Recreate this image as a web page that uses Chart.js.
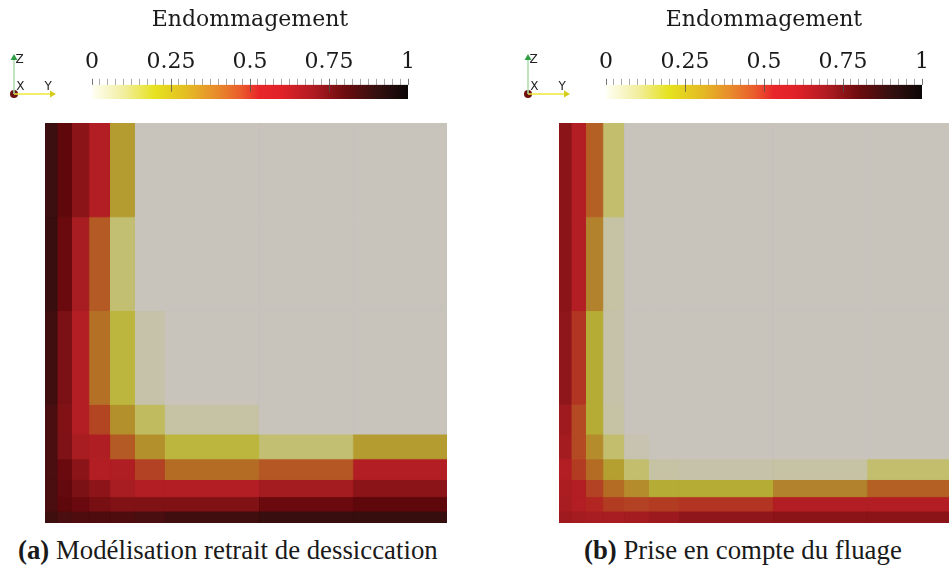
<!DOCTYPE html>
<html>
<head>
<meta charset="utf-8">
<script src="https://cdn.jsdelivr.net/npm/chart.js@4.4.1/dist/chart.umd.min.js"></script>
<style>
  html, body { margin: 0; padding: 0; background: #fff; overflow: hidden; }
  body { width: 949px; height: 566px; position: relative; }
  .box { position: absolute; }
  .caption { position: absolute; top: 535px; font-family: "Liberation Serif", serif; font-size: 26.8px; line-height: 30px; color: #1a1a1a; white-space: nowrap; }
</style>
</head>
<body>
<div class="caption" style="left:18px"><b>(a)</b> Modélisation retrait de dessiccation</div>
<div class="caption" style="left:584px"><b>(b)</b> Prise en compte du fluage</div>
<script>
document.addEventListener("DOMContentLoaded", () => {

    // --- 1. DATA ---
    // mesh node positions along each side (graded towards the corner)
    const xEdges = [0, 0.0299, 0.0658, 0.1088, 0.1605, 0.2225, 0.2969, 0.5312, 0.7656, 1];
    const yEdges = [0, 0.0299, 0.0658, 0.1088, 0.1605, 0.2225, 0.2969, 0.5312, 0.7656, 1];

    // damage per element, rows from top to bottom, columns from left to right
    const damageA = [
        [0.86, 0.79, 0.70, 0.56, 0.28, 0, 0, 0, 0],
        [0.865, 0.77, 0.64, 0.43, 0.115, 0, 0, 0, 0],
        [0.85, 0.745, 0.56, 0.39, 0.18, 0.04, 0, 0, 0],
        [0.83, 0.735, 0.56, 0.47, 0.31, 0.14, 0.05, 0, 0],
        [0.83, 0.74, 0.64, 0.62, 0.43, 0.31, 0.18, 0.115, 0.28],
        [0.83, 0.77, 0.70, 0.56, 0.62, 0.48, 0.40, 0.435, 0.56],
        [0.83, 0.78, 0.745, 0.695, 0.64, 0.56, 0.56, 0.65, 0.70],
        [0.83, 0.79, 0.77, 0.75, 0.735, 0.735, 0.735, 0.77, 0.79],
        [0.855, 0.83, 0.82, 0.82, 0.82, 0.835, 0.85, 0.865, 0.87]
    ];
    const damageB = [
        [0.70, 0.56, 0.42, 0.12, 0, 0, 0, 0, 0],
        [0.70, 0.56, 0.355, 0.05, 0, 0, 0, 0, 0],
        [0.69, 0.505, 0.23, 0.04, 0, 0, 0, 0, 0],
        [0.66, 0.46, 0.23, 0.05, 0, 0, 0, 0, 0],
        [0.65, 0.46, 0.32, 0.12, 0.025, 0, 0, 0, 0],
        [0.56, 0.49, 0.40, 0.27, 0.12, 0.05, 0.04, 0.05, 0.12],
        [0.63, 0.56, 0.48, 0.40, 0.32, 0.23, 0.23, 0.355, 0.42],
        [0.64, 0.56, 0.53, 0.49, 0.48, 0.49, 0.505, 0.56, 0.56],
        [0.66, 0.65, 0.64, 0.64, 0.65, 0.665, 0.69, 0.70, 0.70]
    ];

    const colorbarTitle = "Endommagement";
    const colorbarTicks = [0, 0.25, 0.5, 0.75, 1];
    const colorbarTickLabels = ["0", "0.25", "0.5", "0.75", "1"];

    // orientation widget (unit axes)
    const triadZ = [{x: 0, y: 0}, {x: 0, y: 1}];
    const triadY = [{x: 0, y: 0}, {x: 1, y: 0}];
    const triadLabels = [
        {text: "Z", x: 0.15, y: 0.96},
        {text: "Y", x: 0.9, y: 0.2},
        {text: "X", x: 0.17, y: 0.2}
    ];

    // --- 2. COLOUR MAPS ---
    // colour bar (unlit)
    const barStops = [
        [0.00, "#FFFFF4"], [0.10, "#F2EEA0"], [0.20, "#E6E21E"], [0.30, "#E4BC24"],
        [0.40, "#E8882C"], [0.47, "#EA5C2C"], [0.53, "#E8262A"], [0.60, "#E02228"],
        [0.70, "#B01C22"], [0.80, "#6C0C0E"], [0.90, "#361010"], [1.00, "#0C0606"]
    ];
    // same map as it looks on the lit surface
    const cellStops = [
        [0.00, "#C8C4BC"], [0.05, "#C6C2A4"], [0.12, "#C2BE6E"], [0.18, "#BCB63E"],
        [0.23, "#B4AC34"], [0.28, "#B49C30"], [0.32, "#B48C2C"], [0.36, "#B2802C"],
        [0.40, "#B46C24"], [0.43, "#B45A24"], [0.46, "#B44A24"], [0.49, "#B23C22"],
        [0.53, "#B22622"], [0.56, "#B21E24"], [0.62, "#AE1E22"], [0.65, "#A41C20"],
        [0.70, "#8A1418"], [0.74, "#7E1216"], [0.77, "#6A0A0E"], [0.79, "#5E080C"],
        [0.83, "#4A0E10"], [0.87, "#360E0E"], [1.00, "#1A0A0A"]
    ];

    const baseOptions = {
        responsive: true,
        maintainAspectRatio: false,
        animation: false,
        events: []
    };

    // --- 3. HELPERS ---

    function hexToRgb(h) {
        return [parseInt(h.slice(1, 3), 16), parseInt(h.slice(3, 5), 16), parseInt(h.slice(5, 7), 16)];
    }

    function cellColor(v) {
        for (let i = 1; i < cellStops.length; i++) {
            const [v1, c1] = cellStops[i];
            if (v <= v1) {
                const [v0, c0] = cellStops[i - 1];
                const t = (v - v0) / (v1 - v0);
                const a = hexToRgb(c0), b = hexToRgb(c1);
                const rgb = a.map((k, j) => Math.round(k + (b[j] - k) * t));
                return `rgb(${rgb[0]},${rgb[1]},${rgb[2]})`;
            }
        }
        return cellStops[cellStops.length - 1][1];
    }

    function addBox(left, top, width, height) {
        const div = document.createElement("div");
        div.className = "box";
        div.style.left = left + "px";
        div.style.top = top + "px";
        div.style.width = width + "px";
        div.style.height = height + "px";
        const canvas = document.createElement("canvas");
        div.appendChild(canvas);
        document.body.appendChild(div);
        return canvas;
    }

    function makePanel(dx, grid) {
        drawTriad(addBox(dx, 50, 60, 56));
        drawColorbar(addBox(dx, 0, 500, 110));
        drawMesh(addBox(dx + 45, 123, 402, 400), grid);
    }

    function drawMesh(canvas, grid) {
        const datasets = [];
        const n = yEdges.length;
        grid.forEach((row, r) => {
            const yTop = yEdges[n - 1 - r];
            const yBottom = yEdges[n - 2 - r];
            row.forEach((v, c) => {
                const color = cellColor(v);
                datasets.push({
                    data: [
                        {x: xEdges[c], y: yBottom},
                        {x: xEdges[c + 1], y: yBottom},
                        {x: xEdges[c + 1], y: yTop},
                        {x: xEdges[c], y: yTop},
                        {x: xEdges[c], y: yBottom}
                    ],
                    fill: "shape",
                    backgroundColor: color,
                    borderColor: color,
                    borderWidth: 1,
                    pointRadius: 0,
                    tension: 0
                });
            });
        });

        new Chart(canvas, {
            type: "line",
            data: { datasets: datasets },
            options: {
                ...baseOptions,
                layout: { padding: 0 },
                scales: {
                    x: { type: "linear", min: 0, max: 1, display: false },
                    y: { type: "linear", min: 0, max: 1, display: false }
                },
                plugins: { legend: { display: false }, tooltip: { enabled: false } }
            }
        });
    }

    function isMajor(v) {
        return colorbarTicks.some(t => Math.abs(t - v) < 1e-6);
    }

    function drawColorbar(canvas) {
        const majorTicks = {
            id: "majorTicks",
            afterDatasetsDraw(chart) {
                const {ctx, chartArea, scales: {x}} = chart;
                ctx.save();
                ctx.strokeStyle = "rgba(80,80,80,0.75)";
                ctx.lineWidth = 1;
                colorbarTicks.slice(1, -1).forEach(v => {
                    const px = Math.round(x.getPixelForValue(v)) + 0.5;
                    ctx.beginPath();
                    ctx.moveTo(px, chartArea.top);
                    ctx.lineTo(px, chartArea.top + 7);
                    ctx.stroke();
                });
                ctx.restore();
            }
        };

        new Chart(canvas, {
            type: "bar",
            data: {
                labels: [colorbarTitle],
                datasets: [{
                    data: [[0, 1]],
                    backgroundColor: (context) => {
                        const chart = context.chart;
                        if (!chart.chartArea) return barStops[0][1];
                        const x = chart.scales.x;
                        const g = chart.ctx.createLinearGradient(x.getPixelForValue(0), 0, x.getPixelForValue(1), 0);
                        barStops.forEach(([v, c]) => g.addColorStop(v, c));
                        return g;
                    },
                    borderWidth: 0,
                    barPercentage: 1,
                    categoryPercentage: 1
                }]
            },
            options: {
                ...baseOptions,
                indexAxis: "y",
                layout: { padding: { left: 92, right: 92, top: 0, bottom: 11 } },
                scales: {
                    x: {
                        type: "linear",
                        position: "top",
                        min: 0,
                        max: 1,
                        ticks: {
                            stepSize: 0.025,
                            autoSkip: false,
                            maxRotation: 0,
                            padding: 3,
                            color: "#1a1a1a",
                            font: { family: "DejaVu Serif", size: 22 },
                            callback: (v) => {
                                const i = colorbarTicks.findIndex(t => Math.abs(t - v) < 1e-6);
                                return i >= 0 ? colorbarTickLabels[i] : "";
                            }
                        },
                        grid: {
                            drawOnChartArea: false,
                            tickLength: 6,
                            tickWidth: 1,
                            tickColor: (ctx) => isMajor(ctx.tick.value) ? "#777" : "#aaa"
                        },
                        border: { display: false }
                    },
                    y: { display: false }
                },
                plugins: {
                    legend: { display: false },
                    tooltip: { enabled: false },
                    title: {
                        display: true,
                        text: colorbarTitle,
                        color: "#1a1a1a",
                        font: { family: "DejaVu Serif", size: 22, weight: "normal" },
                        padding: { top: 7, bottom: 13 }
                    }
                }
            },
            plugins: [majorTicks]
        });
    }

    function drawTriad(canvas) {
        const axisText = {
            id: "axisText",
            afterDatasetsDraw(chart) {
                const {ctx, scales: {x, y}} = chart;
                ctx.save();
                ctx.fillStyle = "#222";
                ctx.font = "12px 'DejaVu Sans'";
                ctx.textAlign = "center";
                ctx.textBaseline = "middle";
                triadLabels.forEach(l => ctx.fillText(l.text, x.getPixelForValue(l.x), y.getPixelForValue(l.y)));
                ctx.restore();
            }
        };

        new Chart(canvas, {
            type: "line",
            data: {
                datasets: [
                    {
                        data: triadZ,
                        borderColor: "#a8dca8",
                        borderWidth: 1.5,
                        pointStyle: "triangle",
                        pointRadius: [0, 4],
                        pointBackgroundColor: "#2f9e44",
                        pointBorderWidth: 0
                    },
                    {
                        data: triadY,
                        borderColor: "#eee838",
                        borderWidth: 1.5,
                        pointStyle: "triangle",
                        pointRotation: 90,
                        pointRadius: [0, 4],
                        pointBackgroundColor: "#d6cc1c",
                        pointBorderWidth: 0
                    },
                    {
                        data: [{x: 0, y: 0}],
                        showLine: false,
                        pointRadius: 4,
                        pointBackgroundColor: "#6e1010",
                        pointBorderWidth: 0
                    }
                ]
            },
            options: {
                ...baseOptions,
                clip: false,
                layout: { padding: { left: 14, right: 8, top: 8, bottom: 12 } },
                scales: {
                    x: { type: "linear", min: 0, max: 1, display: false },
                    y: { type: "linear", min: 0, max: 1, display: false }
                },
                plugins: { legend: { display: false }, tooltip: { enabled: false } }
            },
            plugins: [axisText]
        });
    }

    // --- 4. BUILD BOTH PANELS ---
    makePanel(0, damageA);
    makePanel(514, damageB);
});
</script>
</body>
</html>
